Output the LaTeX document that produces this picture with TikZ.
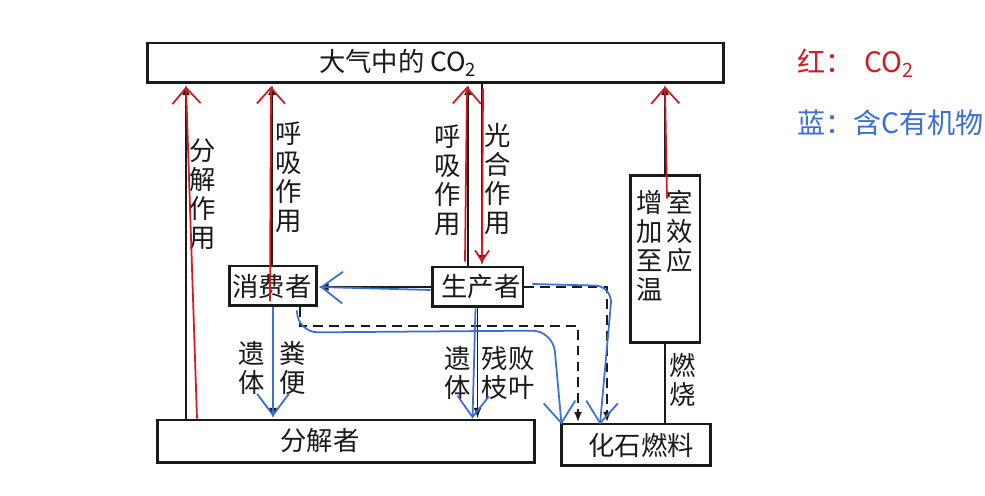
\documentclass[tikz,border=0pt]{standalone}
\usepackage{fontspec}
\setmainfont{Noto Sans CJK SC}
\usepackage{tikz}
\usetikzlibrary{arrows.meta, positioning, calc}
\usepackage{xcolor}
\definecolor{tinte}{HTML}{1A1A1A}
\definecolor{rotstift}{HTML}{D11A22}
\definecolor{blaustift}{HTML}{3B6FD6}

\tikzset{
  kasten/.style={draw=tinte, line width=1.7pt, fill=white, inner sep=0pt},
  pfeil/.style={draw=tinte, line width=1.1pt, -{Latex[length=6pt,width=4.5pt]}},
  strich/.style={pfeil, line width=1.4pt, dash pattern=on 5.5pt off 3.5pt},
  schrift/.style={font=\fontsize{15}{16.5}\selectfont, text=tinte, align=center, inner sep=0pt},
  rot/.style={draw=rotstift, line width=1pt, -{Straight Barb[length=9pt,width=16pt]}},
  blau/.style={draw=blaustift, line width=1pt, -{Straight Barb[length=12pt,width=18pt]}},
  notiz/.style={font=\fontsize{16}{19}\selectfont, anchor=west, inner sep=0pt},
}

\begin{document}
\begin{tikzpicture}[x=0.02cm, y=-0.02cm]
  \useasboundingbox[fill=white] (0,0) rectangle (985,496);
  % Kästen
  \node[kasten, minimum width=11.54cm, minimum height=0.80cm] (co2) at (435.5,63) {};
  \node[kasten, minimum width=7.56cm, minimum height=0.86cm] (zersetzer) at (346,441.5) {};
  \node[kasten, minimum width=3.00cm, minimum height=0.84cm] (fossil) at (636,445) {};
  \node[kasten, minimum width=1.74cm, minimum height=0.80cm] (verbraucher) at (273,286) {};
  \node[kasten, minimum width=1.82cm, minimum height=0.80cm] (produzent) at (477.5,287) {};
  \node[kasten, minimum width=1.40cm, minimum height=3.36cm] (treibhaus) at (665,259) {};
  % Beschriftung der Kästen
  \node[schrift] (co2text) at (398,63) {大气中的 CO\textsubscript{2}};
  \node[schrift] (zersetzertext) at (320,441) {分解者};
  \node[schrift] (fossiltext) at (641,445) {化石燃料};
  \node[schrift] (verbrauchertext) at (272,286) {消费者};
  \node[schrift] (produzenttext) at (481,287) {生产者};
  \node[schrift, anchor=north] (treibtext1) at (650,190) {增\\加\\至\\温};
  \node[schrift, anchor=north] (treibtext2) at (680,190) {室\\效\\应};
  % Stützpunkte
  \coordinate (abbau) at (186,0);
  \coordinate (atmung1) at (272,0);
  \coordinate (atmung2) at (468,0);
  \coordinate (photo) at (482,0);
  \coordinate (d0) at (300,0);
  \coordinate (d1) at (607,0);
  \coordinate (d2) at (578,326);
  % Pfeile
  \draw[pfeil] (zersetzer.north -| abbau) -- (co2.south -| abbau);
  \draw[pfeil] (verbraucher.north -| atmung1) -- (co2.south -| atmung1);
  \draw[pfeil] (produzent.north -| atmung2) -- (co2.south -| atmung2);
  \draw[pfeil] (co2.south -| photo) -- (produzent.north -| photo);
  \draw[pfeil] (treibhaus.north) -- (co2.south -| treibhaus);
  \draw[pfeil, -] (fossil.north -| treibhaus) -- (treibhaus.south);
  \draw[pfeil] (verbraucher.south) -- (zersetzer.north -| verbraucher);
  \draw[pfeil] (produzent.south) -- (zersetzer.north -| produzent);
  \draw[pfeil] (produzent.west) -- (produzent.west -| verbraucher.east);
  \draw[strich] (produzent.east) -| (fossil.north -| d1);
  \draw[strich] (verbraucher.south -| d0) |- (d2) -- (fossil.north -| d2);
  % Pfeilbeschriftung
  \node[schrift] (t1) at (203,194) {分\\解\\作\\用};
  \node[schrift] (t2) at (289,177) {呼\\吸\\作\\用};
  \node[schrift] (t3) at (448,180) {呼\\吸\\作\\用};
  \node[schrift] (t4) at (498,179) {光\\合\\作\\用};
  \node[schrift] (t5) at (252,368) {遗\\体};
  \node[schrift] (t6) at (293,368) {粪\\便};
  \node[schrift] (t7) at (458,373) {遗\\体};
  \node[schrift] (t8) at (508,373) {残败\\枝叶};
  \node[schrift] (t9) at (683,380) {燃\\烧};
  % rot: CO2
  \draw[rot] ($(zersetzer.north -| abbau)+(11,0)$) -- ($(co2.south -| abbau)+(0,2)$);
  \draw[rot] ($(verbraucher.south -| atmung1)+(-2,-6)$) -- ($(co2.south -| atmung1)+(-1,2)$);
  \draw[rot] ($(produzent.north -| atmung2)+(-3,-4)$) -- ($(co2.south -| atmung2)+(-1,2)$);
  \draw[rot, -{Straight Barb[length=6pt,width=8pt]}] ($(co2.south -| photo)+(1,4)$) -- ($(produzent.north -| photo)+(0,-3)$);
  \draw[rot] ($(treibhaus.north)+(2,25)$) -- ($(co2.south -| treibhaus)+(0,2)$);
  % blau: organisches C
  \draw[blau] ($(produzent.west)+(0,3)$) -- ($(verbraucher.east)+(2,1)$);
  \draw[blau] (verbraucher.south) -- ($(zersetzer.north -| verbraucher)+(0,-2)$);
  \draw[blau] ($(produzent.south)+(-2,0)$) -- ($(zersetzer.north -| produzent)+(-5,0)$);
  \draw[blau, rounded corners=12] ($(verbraucher.south)+(24,3)$) -- ++(0,22) -- ++(256,-2) -- ($(fossil.north west)+(2,2)$);
  \draw[blau, rounded corners=10] ($(produzent.east)+(8,-3)$) -- ++(80,2) -- ($(fossil.north)+(-36,2)$);
  % Notizen
  \node[notiz, text=rotstift] (rotnotiz) at (797,63) {红：\hspace{0.4em}CO\textsubscript{2}};
  \node[notiz, text=blaustift] (blaunotiz) at (797,123) {蓝：含C有机物};
\end{tikzpicture}
\end{document}
